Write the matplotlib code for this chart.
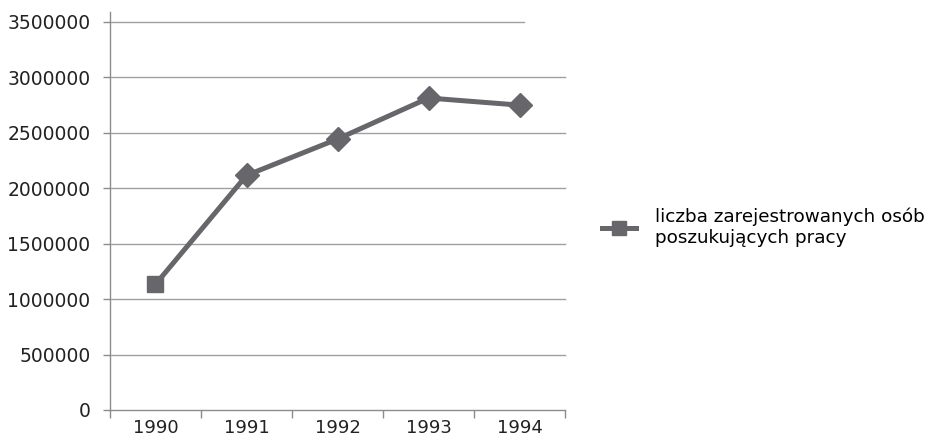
import matplotlib
matplotlib.use("Agg")
import matplotlib.pyplot as plt
from matplotlib.lines import Line2D

years = ["1990", "1991", "1992", "1993", "1994"]
registered = [1134000, 2116000, 2444000, 2814000, 2750000]
y_ticks = [0, 500000, 1000000, 1500000, 2000000, 2500000, 3000000, 3500000]
series_label = "liczba zarejestrowanych osób\nposzukujących pracy"

LINE = "#67676b"
AXIS = "#8c8c8c"
GRID = "#a0a0a0"

plt.rcParams["font.family"] = ["DejaVu Sans"]

fig = plt.figure(figsize=(9.29, 4.41), dpi=100)
ax = fig.add_axes([0.1184, 0.0703, 0.4898, 0.9025])

x = list(range(len(years)))
ax.plot(x, registered, color=LINE, lw=3.6, solid_capstyle="butt", zorder=3)
ax.plot(x[:1], registered[:1], ls="none", marker="s", ms=11, color=LINE, zorder=4)
ax.plot(x[1:], registered[1:], ls="none", marker="D", ms=12, color=LINE, zorder=4)

ax.set_xlim(-0.5, len(years) - 0.5)
ax.set_ylim(0, 3590000)

# horizontal gridlines (top one is shorter, as in the original)
tr = ax.get_yaxis_transform()
for v in y_ticks[1:]:
    xmax = 0.91 if v == y_ticks[-1] else 1.0
    ax.plot([0, xmax], [v, v], transform=tr, color=GRID, lw=1.0, zorder=1, clip_on=False)

for s in ["top", "right"]:
    ax.spines[s].set_visible(False)
for s in ["left", "bottom"]:
    ax.spines[s].set_color(AXIS)
    ax.spines[s].set_linewidth(1.0)

ax.set_yticks(y_ticks)
ax.set_yticklabels([str(v) for v in y_ticks], fontsize=13.5, color="#222222")
ax.tick_params(axis="y", length=5, width=1.0, color=AXIS, pad=9)

ax.set_xticks([i - 0.5 for i in range(len(years) + 1)])
ax.set_xticklabels([])
ax.tick_params(axis="x", which="major", length=6, width=1.0, color=AXIS)
ax.set_xticks(x, minor=True)
ax.set_xticklabels(years, minor=True, fontsize=13, color="#222222")
ax.tick_params(axis="x", which="minor", length=0, pad=6.5)

handle = Line2D([0], [0], color=LINE, lw=3.6, marker="s", ms=9.5)
fig.legend([handle], [series_label], loc="center left", bbox_to_anchor=(0.6305, 0.485),
           frameon=False, fontsize=13.2, handlelength=1.85, handletextpad=1.05,
           labelspacing=0.15)

fig.savefig("out.png", dpi=100)
